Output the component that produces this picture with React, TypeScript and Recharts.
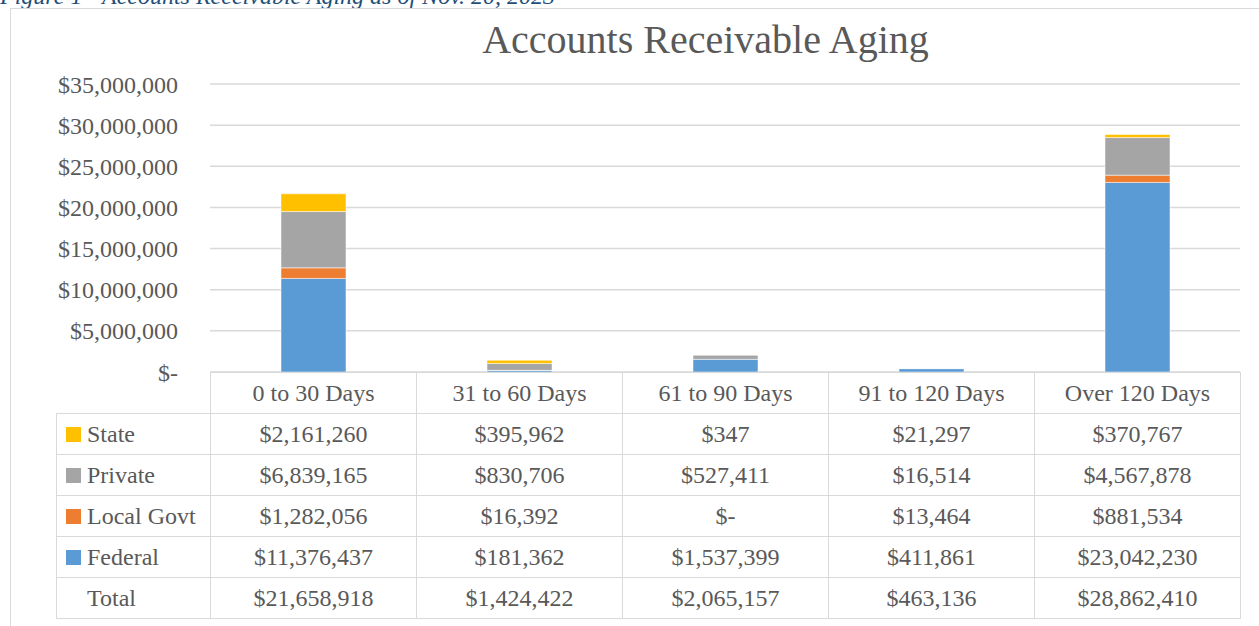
import React from "react";
import { Bar, BarChart, CartesianGrid, XAxis, YAxis } from "recharts";

// aging buckets
const categories = ["0 to 30 Days", "31 to 60 Days", "61 to 90 Days", "91 to 120 Days", "Over 120 Days"];

// balances per payer type
const state = [2161260, 395962, 347, 21297, 370767];
const privatePay = [6839165, 830706, 527411, 16514, 4567878];
const localGovt = [1282056, 16392, 0, 13464, 881534];
const federal = [11376437, 181362, 1537399, 411861, 23042230];
const totals = [21658918, 1424422, 2065157, 463136, 28862410];

const yTicks = [0, 5000000, 10000000, 15000000, 20000000, 25000000, 30000000, 35000000];

const FONT = '"Liberation Serif", "Times New Roman", serif';
const TEXT = "#595959";
const LINE = "#d9d9d9";

const series = [
  { key: "federal", label: "Federal", color: "#5b9bd5", values: federal },
  { key: "localGovt", label: "Local Govt", color: "#ed7d31", values: localGovt },
  { key: "private", label: "Private", color: "#a5a5a5", values: privatePay },
  { key: "state", label: "State", color: "#ffc000", values: state },
];

const chartData = categories.map((c, i) => ({
  category: c,
  federal: federal[i],
  localGovt: localGovt[i],
  private: privatePay[i],
  state: state[i],
}));

const money = (v: number) => (v === 0 ? "$-" : "$" + v.toLocaleString("en-US"));

// table rows top to bottom (legend order is reversed from stack order)
const tableRows = [...series].reverse();

const cell: React.CSSProperties = {
  border: `1px solid ${LINE}`,
  textAlign: "center",
  padding: 0,
  height: 40,
  whiteSpace: "nowrap",
};

export default function App() {
  return (
    <div
      style={{
        position: "absolute",
        left: 0,
        top: 0,
        width: 1259,
        height: 626,
        overflow: "hidden",
        background: "#fff",
        fontFamily: FONT,
        color: TEXT,
      }}
    >
      {/* caption above the frame, cut off by the page edge */}
      <div
        style={{
          position: "absolute",
          left: 0,
          top: -16,
          fontSize: 24,
          lineHeight: "24px",
          fontStyle: "italic",
          color: "#1f4e79",
          whiteSpace: "nowrap",
        }}
      >
        Figure 1 - Accounts Receivable Aging as of Nov. 20, 2023
      </div>

      {/* chart frame */}
      <div
        style={{
          position: "absolute",
          left: 10,
          top: 8,
          width: 1270,
          height: 640,
          border: `1px solid ${LINE}`,
        }}
      />

      <div
        style={{
          position: "absolute",
          left: 0,
          top: 18,
          width: 1259,
          textAlign: "center",
          paddingLeft: 152,
          boxSizing: "border-box",
          fontSize: 40,
          lineHeight: "44px",
        }}
      >
        Accounts Receivable Aging
      </div>

      <div style={{ position: "absolute", left: 0, top: 0 }}>
        <BarChart
          width={1259}
          height={400}
          data={chartData}
          margin={{ top: 84, right: 19, bottom: 28, left: 0 }}
        >
          <CartesianGrid vertical={false} stroke={LINE} strokeWidth={1.5} />
          <XAxis dataKey="category" hide />
          <YAxis
            width={210}
            domain={[0, 35000000]}
            ticks={yTicks}
            interval={0}
            axisLine={false}
            tickLine={false}
            tickSize={6}
            tickMargin={26}
            tickFormatter={money}
            tick={{ fill: TEXT, fontSize: 24, fontFamily: FONT }}
          />
          {series.map((s) => (
            <Bar
              key={s.key}
              dataKey={s.key}
              stackId="a"
              fill={s.color}
              stroke="#fff"
              strokeWidth={0.5}
              barSize={65}
              isAnimationActive={false}
            />
          ))}
        </BarChart>
      </div>

      {/* data table */}
      <table
        style={{
          position: "absolute",
          left: 56,
          top: 372,
          borderCollapse: "collapse",
          tableLayout: "fixed",
          fontSize: 24,
          fontFamily: FONT,
          color: TEXT,
        }}
      >
        <colgroup>
          <col style={{ width: 154 }} />
          {categories.map((c) => (
            <col key={c} style={{ width: 206 }} />
          ))}
        </colgroup>
        <tbody>
          <tr>
            <td style={{ border: "none", padding: 0 }} />
            {categories.map((c) => (
              <td key={c} style={{ ...cell, background: "#fff" }}>
                {c}
              </td>
            ))}
          </tr>
          {tableRows.map((s) => (
            <tr key={s.key}>
              <td style={{ ...cell, textAlign: "left", paddingLeft: 9, height: 40 }}>
                <span
                  style={{
                    display: "inline-block",
                    width: 15,
                    height: 15,
                    background: s.color,
                    marginRight: 6,
                  }}
                />
                {s.label}
              </td>
              {s.values.map((v, i) => (
                <td key={i} style={cell}>
                  {money(v)}
                </td>
              ))}
            </tr>
          ))}
          <tr>
            <td style={{ ...cell, textAlign: "left", paddingLeft: 30 }}>Total</td>
            {totals.map((v, i) => (
              <td key={i} style={cell}>
                {money(v)}
              </td>
            ))}
          </tr>
        </tbody>
      </table>
    </div>
  );
}
